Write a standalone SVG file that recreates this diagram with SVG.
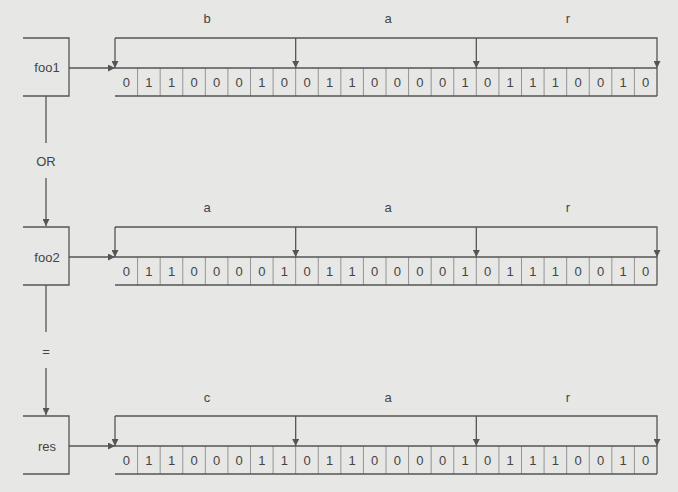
<svg xmlns="http://www.w3.org/2000/svg" width="678" height="492" viewBox="0 0 678 492">
<style>
.ln{stroke:#555;stroke-width:1.3;fill:none}
.dv{stroke:#8a8a8a;stroke-width:0.9}
.t{font-family:"Liberation Sans",Arial,sans-serif;font-size:13px;fill:#444;text-anchor:middle;dominant-baseline:central}
.b text{font-family:"Liberation Sans",Arial,sans-serif;font-size:13px;fill:#444;text-anchor:middle;dominant-baseline:central}
</style>
<defs>
<marker id="ah" viewBox="0 0 10 10" refX="10" refY="5" markerWidth="9" markerHeight="7" markerUnits="userSpaceOnUse" orient="auto">
<path d="M0,0 L10,5 L0,10 z" fill="#555"/>
</marker>
<g id="cells">
<line class="dv" x1="137.58" y1="0" x2="137.58" y2="28"/>
<line class="dv" x1="160.17" y1="0" x2="160.17" y2="28"/>
<line class="dv" x1="182.75" y1="0" x2="182.75" y2="28"/>
<line class="dv" x1="205.33" y1="0" x2="205.33" y2="28"/>
<line class="dv" x1="227.92" y1="0" x2="227.92" y2="28"/>
<line class="dv" x1="250.5" y1="0" x2="250.5" y2="28"/>
<line class="dv" x1="273.08" y1="0" x2="273.08" y2="28"/>
<line class="dv" x1="295.67" y1="0" x2="295.67" y2="28"/>
<line class="dv" x1="318.25" y1="0" x2="318.25" y2="28"/>
<line class="dv" x1="340.83" y1="0" x2="340.83" y2="28"/>
<line class="dv" x1="363.42" y1="0" x2="363.42" y2="28"/>
<line class="dv" x1="386" y1="0" x2="386" y2="28"/>
<line class="dv" x1="408.58" y1="0" x2="408.58" y2="28"/>
<line class="dv" x1="431.17" y1="0" x2="431.17" y2="28"/>
<line class="dv" x1="453.75" y1="0" x2="453.75" y2="28"/>
<line class="dv" x1="476.33" y1="0" x2="476.33" y2="28"/>
<line class="dv" x1="498.92" y1="0" x2="498.92" y2="28"/>
<line class="dv" x1="521.5" y1="0" x2="521.5" y2="28"/>
<line class="dv" x1="544.08" y1="0" x2="544.08" y2="28"/>
<line class="dv" x1="566.67" y1="0" x2="566.67" y2="28"/>
<line class="dv" x1="589.25" y1="0" x2="589.25" y2="28"/>
<line class="dv" x1="611.83" y1="0" x2="611.83" y2="28"/>
<line class="dv" x1="634.42" y1="0" x2="634.42" y2="28"/>
<line class="ln" x1="657" y1="0" x2="657" y2="28"/>
<line class="ln" x1="115" y1="0" x2="657" y2="0"/>
<line class="ln" x1="115" y1="28" x2="657" y2="28"/>
</g>
<g id="bracket">
<polyline class="ln" points="115,0 657,0 657,30" marker-end="url(#ah)"/>
<line class="ln" x1="115" y1="0" x2="115" y2="30" marker-end="url(#ah)"/>
<line class="ln" x1="295.67" y1="0" x2="295.67" y2="30" marker-end="url(#ah)"/>
<line class="ln" x1="476.33" y1="0" x2="476.33" y2="30" marker-end="url(#ah)"/>
</g>
</defs>
<rect width="678" height="492" fill="#e7e7e5"/>

<g id="foo1">
<polyline class="ln" points="23,38 69,38 69,96 23,96"/>
<text class="t" x="47" y="67">foo1</text>
</g>
<g id="foo2">
<polyline class="ln" points="23,227 69,227 69,285 23,285"/>
<text class="t" x="47" y="257">foo2</text>
</g>
<g id="res">
<polyline class="ln" points="23,416 69,416 69,474 23,474"/>
<text class="t" x="47" y="446">res</text>
</g>

<g id="array1">
<use href="#cells" y="68"/>
<use href="#bracket" y="38"/>
<text class="t" x="207" y="18">b</text>
<text class="t" x="388" y="18">a</text>
<text class="t" x="568" y="18">r</text>
<g class="b">
<text x="126.3" y="82">0</text><text x="148.9" y="82">1</text><text x="171.5" y="82">1</text><text x="194" y="82">0</text><text x="216.6" y="82">0</text><text x="239.2" y="82">0</text><text x="261.8" y="82">1</text><text x="284.4" y="82">0</text>
<text x="307" y="82">0</text><text x="329.5" y="82">1</text><text x="352.1" y="82">1</text><text x="374.7" y="82">0</text><text x="397.3" y="82">0</text><text x="419.9" y="82">0</text><text x="442.5" y="82">0</text><text x="465" y="82">1</text>
<text x="487.6" y="82">0</text><text x="510.2" y="82">1</text><text x="532.8" y="82">1</text><text x="555.4" y="82">1</text><text x="578" y="82">0</text><text x="600.5" y="82">0</text><text x="623.1" y="82">1</text><text x="645.7" y="82">0</text>
</g>
</g>

<g id="array2">
<use href="#cells" y="257"/>
<use href="#bracket" y="227"/>
<text class="t" x="207" y="207">a</text>
<text class="t" x="388" y="207">a</text>
<text class="t" x="568" y="207">r</text>
<g class="b">
<text x="126.3" y="271">0</text><text x="148.9" y="271">1</text><text x="171.5" y="271">1</text><text x="194" y="271">0</text><text x="216.6" y="271">0</text><text x="239.2" y="271">0</text><text x="261.8" y="271">0</text><text x="284.4" y="271">1</text>
<text x="307" y="271">0</text><text x="329.5" y="271">1</text><text x="352.1" y="271">1</text><text x="374.7" y="271">0</text><text x="397.3" y="271">0</text><text x="419.9" y="271">0</text><text x="442.5" y="271">0</text><text x="465" y="271">1</text>
<text x="487.6" y="271">0</text><text x="510.2" y="271">1</text><text x="532.8" y="271">1</text><text x="555.4" y="271">1</text><text x="578" y="271">0</text><text x="600.5" y="271">0</text><text x="623.1" y="271">1</text><text x="645.7" y="271">0</text>
</g>
</g>

<g id="array3">
<use href="#cells" y="446"/>
<use href="#bracket" y="416"/>
<text class="t" x="207" y="397">c</text>
<text class="t" x="388" y="397">a</text>
<text class="t" x="568" y="397">r</text>
<g class="b">
<text x="126.3" y="460">0</text><text x="148.9" y="460">1</text><text x="171.5" y="460">1</text><text x="194" y="460">0</text><text x="216.6" y="460">0</text><text x="239.2" y="460">0</text><text x="261.8" y="460">1</text><text x="284.4" y="460">1</text>
<text x="307" y="460">0</text><text x="329.5" y="460">1</text><text x="352.1" y="460">1</text><text x="374.7" y="460">0</text><text x="397.3" y="460">0</text><text x="419.9" y="460">0</text><text x="442.5" y="460">0</text><text x="465" y="460">1</text>
<text x="487.6" y="460">0</text><text x="510.2" y="460">1</text><text x="532.8" y="460">1</text><text x="555.4" y="460">1</text><text x="578" y="460">0</text><text x="600.5" y="460">0</text><text x="623.1" y="460">1</text><text x="645.7" y="460">0</text>
</g>
</g>

<g id="connectors">
<line class="ln" x1="69" y1="68" x2="115" y2="68" marker-end="url(#ah)"/>
<line class="ln" x1="69" y1="257" x2="115" y2="257" marker-end="url(#ah)"/>
<line class="ln" x1="69" y1="446" x2="115" y2="446" marker-end="url(#ah)"/>
<line class="ln" x1="46" y1="96" x2="46" y2="143"/>
<line class="ln" x1="46" y1="178" x2="46" y2="226" marker-end="url(#ah)"/>
<text class="t" x="46" y="161">OR</text>
<line class="ln" x1="46" y1="285" x2="46" y2="332"/>
<line class="ln" x1="46" y1="368" x2="46" y2="415" marker-end="url(#ah)"/>
<text class="t" x="46" y="351">=</text>
</g>
</svg>
